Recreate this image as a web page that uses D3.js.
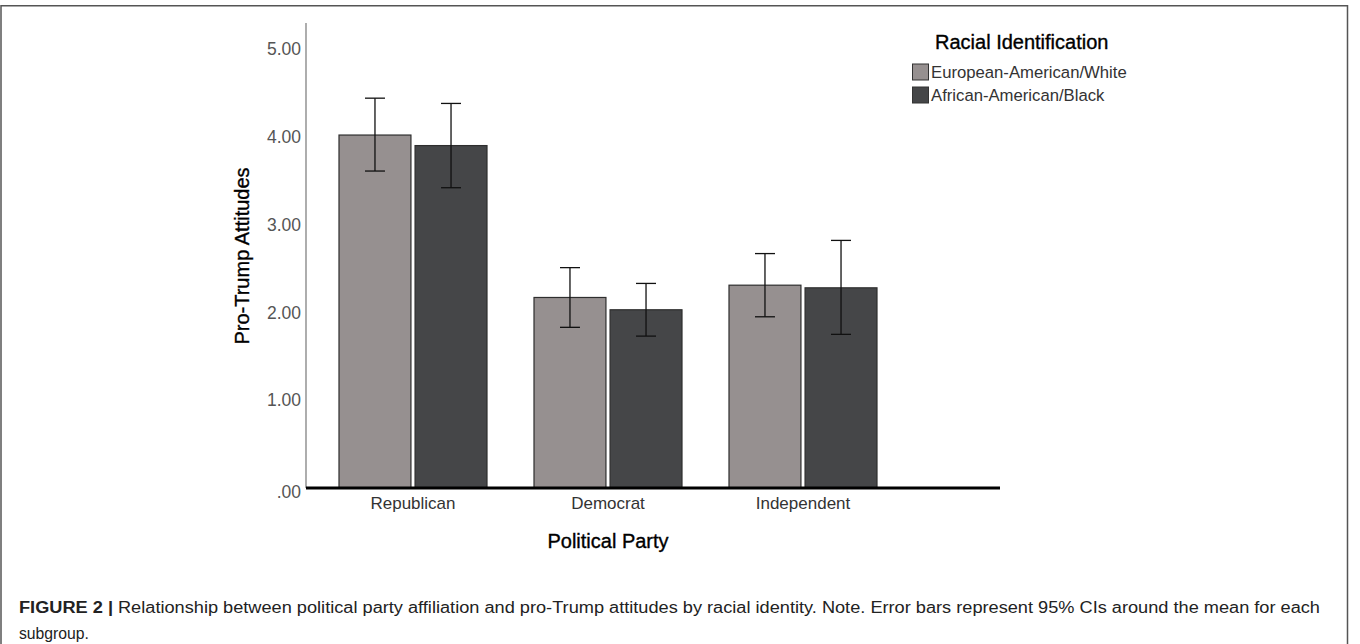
<!DOCTYPE html>
<html>
<head>
<meta charset="utf-8">
<script src="https://cdn.jsdelivr.net/npm/d3@7"></script>
<style>
  html, body { margin: 0; padding: 0; background: #fff; }
  svg { display: block; font-family: "Liberation Sans", Arial, sans-serif; }
  .title { fill: #000; stroke: #000; stroke-width: 0.35px; }
</style>
</head>
<body>
<svg id="chart" width="1360" height="644"></svg>
<script>
// Political party categories and racial identification groups
const parties = ["Republican", "Democrat", "Independent"];
const groups = ["European-American/White", "African-American/Black"];

// Mean pro-Trump attitude per party, one array per group
const meanWhite = [4.02, 2.17, 2.31];
const meanBlack = [3.90, 2.03, 2.28];

// 95% confidence interval bounds
const lowWhite = [3.61, 1.83, 1.95];
const highWhite = [4.44, 2.51, 2.67];
const lowBlack = [3.42, 1.73, 1.75];
const highBlack = [4.38, 2.33, 2.82];

// Y axis tick values and labels
const yTicks = [0, 1, 2, 3, 4, 5];
const yTickLabels = [".00", "1.00", "2.00", "3.00", "4.00", "5.00"];

const groupColors = ["#969090", "#454648"];

const rows = [];
parties.forEach((p, i) => {
  rows.push({ party: p, group: groups[0], mean: meanWhite[i], lo: lowWhite[i], hi: highWhite[i] });
  rows.push({ party: p, group: groups[1], mean: meanBlack[i], lo: lowBlack[i], hi: highBlack[i] });
});

const svg = d3.select("#chart");

// figure frame (open at the bottom)
svg.append("path")
  .attr("d", "M1,644 V5.75 H1347.5 V644")
  .attr("fill", "none").attr("stroke", "#555").attr("stroke-width", 1.5);

const axisX = 306, baseY = 488, topY = 23, axisRight = 1000;
const font = "'Liberation Sans', Arial, sans-serif";

const y = d3.scaleLinear().domain([0, 5]).range([baseY, 49]);
const x0 = d3.scaleBand().domain(parties).range([315.5, 900.5]);
const x1 = d3.scaleBand().domain(groups).range([0, 148]).paddingInner(0.054);
const color = d3.scaleOrdinal().domain(groups).range(groupColors);

// y axis
const yAxis = d3.axisLeft(y)
  .tickValues(yTicks)
  .tickFormat((d, i) => yTickLabels[i])
  .tickSize(0)
  .tickPadding(5);
const gy = svg.append("g").attr("transform", `translate(${axisX},0)`).call(yAxis);
gy.select(".domain").remove();
gy.selectAll("text")
  .attr("fill", "#555")
  .style("font-size", "17.5px")
  .style("font-family", font);
gy.select(".tick text").attr("dy", "0.55em");

svg.append("line")
  .attr("x1", axisX).attr("x2", axisX)
  .attr("y1", topY).attr("y2", baseY)
  .attr("stroke", "#777").attr("stroke-width", 1.2);

// bars
const barX = d => x0(d.party) + (x0.bandwidth() - 148) / 2 + x1(d.group);
svg.append("g").selectAll("rect")
  .data(rows)
  .join("rect")
  .attr("x", barX)
  .attr("width", x1.bandwidth())
  .attr("y", d => y(d.mean))
  .attr("height", d => y(0) - y(d.mean))
  .attr("fill", d => color(d.group))
  .attr("stroke", "#2e2e2e")
  .attr("stroke-width", 1.2);

// error bars
const cap = 10;
const errG = svg.append("g").attr("stroke", "#111").attr("stroke-width", 1.3);
rows.forEach(d => {
  const cx = barX(d) + x1.bandwidth() / 2;
  errG.append("line").attr("x1", cx).attr("x2", cx).attr("y1", y(d.hi)).attr("y2", y(d.lo));
  errG.append("line").attr("x1", cx - cap).attr("x2", cx + cap).attr("y1", y(d.hi)).attr("y2", y(d.hi));
  errG.append("line").attr("x1", cx - cap).attr("x2", cx + cap).attr("y1", y(d.lo)).attr("y2", y(d.lo));
});

// baseline
svg.append("line")
  .attr("x1", axisX).attr("x2", axisRight)
  .attr("y1", baseY).attr("y2", baseY)
  .attr("stroke", "#000").attr("stroke-width", 3);

// category labels
const xAxis = d3.axisBottom(x0).tickSize(0).tickPadding(9);
const gx = svg.append("g").attr("transform", `translate(0,${baseY})`).call(xAxis);
gx.select(".domain").remove();
gx.selectAll("text")
  .attr("fill", "#333")
  .style("font-size", "17px")
  .style("font-family", font);

// axis titles
svg.append("text")
  .attr("class", "title")
  .attr("transform", `translate(249,256) rotate(-90)`)
  .attr("text-anchor", "middle")
  .style("font-size", "20px")
  .text("Pro-Trump Attitudes");

svg.append("text")
  .attr("class", "title")
  .attr("x", 608).attr("y", 548)
  .attr("text-anchor", "middle")
  .style("font-size", "20px")
  .text("Political Party");

// legend
const leg = svg.append("g");
leg.append("text")
  .attr("class", "title")
  .attr("x", 935).attr("y", 49)
  .style("font-size", "20px")
  .text("Racial Identification");
groups.forEach((g, i) => {
  const yy = 64 + i * 23;
  leg.append("rect")
    .attr("x", 912.5).attr("y", yy)
    .attr("width", 16).attr("height", 16)
    .attr("fill", color(g)).attr("stroke", "#333").attr("stroke-width", 1);
  leg.append("text")
    .attr("x", 931).attr("y", yy + 14)
    .attr("fill", "#333")
    .style("font-size", "16.7px")
    .text(g);
});

// caption
const cap1 = svg.append("text")
  .attr("x", 19).attr("y", 613)
  .attr("fill", "#222")
  .attr("textLength", 1301)
  .attr("lengthAdjust", "spacingAndGlyphs")
  .style("font-size", "16px");
cap1.append("tspan").attr("font-weight", "bold").text("FIGURE 2 | ");
cap1.append("tspan").text("Relationship between political party affiliation and pro-Trump attitudes by racial identity. Note. Error bars represent 95% CIs around the mean for each");
svg.append("text")
  .attr("x", 19).attr("y", 639)
  .attr("fill", "#222")
  .attr("textLength", 70)
  .attr("lengthAdjust", "spacingAndGlyphs")
  .style("font-size", "16px")
  .text("subgroup.");
</script>
</body>
</html>
